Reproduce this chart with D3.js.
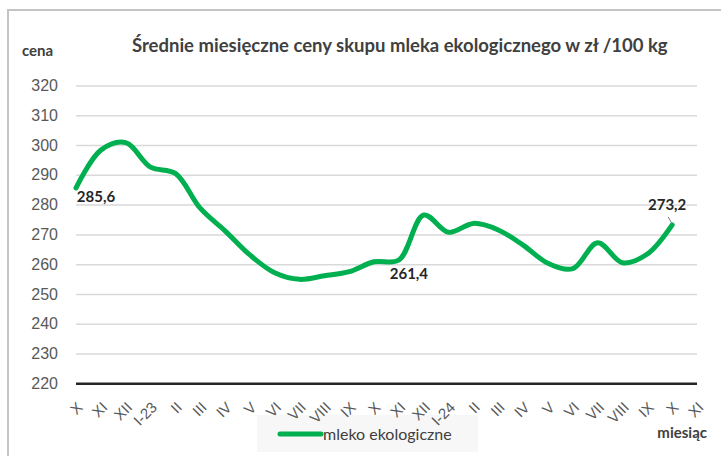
<!DOCTYPE html>
<html lang="pl">
<head>
  <meta charset="UTF-8" />
  <title>Średnie miesięczne ceny skupu mleka ekologicznego</title>
  <script src="https://unpkg.com/d3@7/dist/d3.min.js"></script>
  <style>
    body { margin: 0; background: #fff; font-family: Lato, "Open Sans", sans-serif; }
    svg { display: block; }
    .ylab text { font-size: 16px; fill: #595959; }
    .xlab text { font-size: 15px; fill: #595959; }
  </style>
</head>
<body>
<svg id="chart" width="721" height="456"></svg>
<script>
  const months = ["X","XI","XII","I-23","II","III","IV","V","VI","VII","VIII","IX",
                  "X ","XI ","XII ","I-24","II ","III ","IV ","V ","VI ","VII ","VIII ","IX ","X  ","XI  "];
  const prices = [285.6, 298.3, 300.8, 292.6, 290.5, 278.8, 271.2, 263.1, 257.1, 254.9, 256.1, 257.5,
                  260.8, 261.4, 276.5, 270.7, 273.7, 271.5, 266.4, 260.3, 258.5, 267.2, 260.5, 263.4, 273.2];
  const yTicks = [220, 230, 240, 250, 260, 270, 280, 290, 300, 310, 320];
  const labelled = [0, 13, 24];

  const svg = d3.select("#chart");
  const green = "#00b050";

  // ramka wykresu
  svg.append("rect")
    .attr("x", 8).attr("y", 10)
    .attr("width", 730).attr("height", 460)
    .attr("fill", "#fff")
    .attr("stroke", "#c4c4c4")
    .attr("stroke-width", 2);

  const x = d3.scalePoint().domain(months).range([76, 697]);
  const y = d3.scaleLinear().domain([220, 320]).range([383.3, 85.5]);

  // legenda (pod etykietami osi X)
  const lg = svg.append("g");
  lg.append("rect")
    .attr("x", 257).attr("y", 415)
    .attr("width", 221).attr("height", 37)
    .attr("fill", "#f7f7f7");
  lg.append("line")
    .attr("x1", 280).attr("x2", 321)
    .attr("y1", 434).attr("y2", 434)
    .attr("stroke", green).attr("stroke-width", 5)
    .attr("stroke-linecap", "round");
  lg.append("text")
    .attr("x", 323).attr("y", 440)
    .attr("font-size", 16)
    .attr("fill", "#404040")
    .text("mleko ekologiczne");

  // siatka + etykiety osi Y
  const gy = svg.append("g")
    .attr("class", "ylab")
    .attr("transform", "translate(76,0)")
    .call(d3.axisLeft(y).tickValues(yTicks).tickSize(-621).tickPadding(18).tickFormat(d3.format("d")));
  gy.select(".domain").remove();
  gy.selectAll(".tick line")
    .attr("stroke", d => d === 220 ? "#262626" : "#d9d9d9")
    .attr("stroke-width", d => d === 220 ? 2.5 : 1.5);

  // etykiety osi X
  const gx = svg.append("g")
    .attr("class", "xlab")
    .attr("transform", "translate(0,383.3)")
    .call(d3.axisBottom(x).tickSize(0).tickPadding(0));
  gx.select(".domain").remove();
  gx.selectAll(".tick text")
    .attr("text-anchor", "end")
    .attr("dy", 0)
    .attr("transform", "translate(7,25) rotate(-45)");

  // linia
  const line = d3.line()
    .x((d, i) => x(months[i]))
    .y(d => y(d))
    .curve(d3.curveCatmullRom.alpha(0.5));

  svg.append("path")
    .datum(prices)
    .attr("fill", "none")
    .attr("stroke", green)
    .attr("stroke-width", 5)
    .attr("stroke-linecap", "round")
    .attr("d", line);

  // etykiety danych
  const fmt = v => v.toFixed(1).replace(".", ",");
  const lblPos = { 0: [20, 14], 13: [10, 19], 24: [-5, -15] };
  labelled.forEach(i => {
    const px = x(months[i]), py = y(prices[i]);
    svg.append("text")
      .attr("x", px + lblPos[i][0]).attr("y", py + lblPos[i][1])
      .attr("text-anchor", "middle")
      .attr("font-size", 15).attr("font-weight", 700)
      .attr("fill", "#262626")
      .text(fmt(prices[i]));
  });
  const endX = x(months[24]), endY = y(prices[24]);
  svg.append("line")
    .attr("x1", endX - 4).attr("y1", endY - 8)
    .attr("x2", endX).attr("y2", endY - 1)
    .attr("stroke", "#7f7f7f").attr("stroke-width", 1);

  // tytuły
  svg.append("text")
    .attr("x", 132).attr("y", 52)
    .attr("font-size", 18.5).attr("font-weight", 700)
    .attr("fill", "#404040")
    .text("Średnie miesięczne ceny skupu  mleka ekologicznego w zł /100 kg");

  svg.append("text")
    .attr("x", 22).attr("y", 56)
    .attr("font-size", 15).attr("font-weight", 700)
    .attr("fill", "#404040")
    .text("cena");

  svg.append("text")
    .attr("x", 707).attr("y", 438)
    .attr("text-anchor", "end")
    .attr("font-size", 15).attr("font-weight", 700)
    .attr("fill", "#404040")
    .text("miesiąc");
</script>
</body>
</html>
